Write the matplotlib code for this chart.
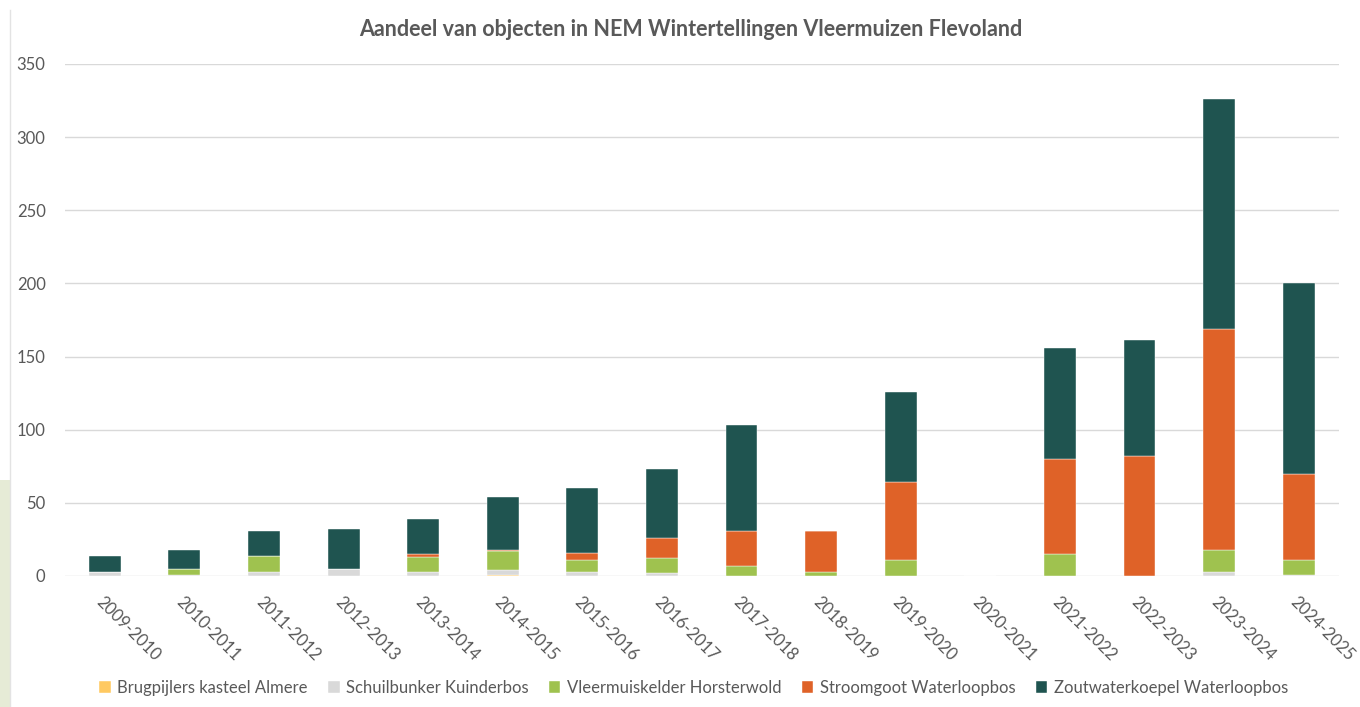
import numpy as np
import matplotlib.pyplot as plt
from matplotlib.patches import Rectangle

plt.rcParams['font.family'] = ['Lato', 'DejaVu Sans']

seasons = ["2009-2010", "2010-2011", "2011-2012", "2012-2013", "2013-2014",
           "2014-2015", "2015-2016", "2016-2017", "2017-2018", "2018-2019",
           "2019-2020", "2020-2021", "2021-2022", "2022-2023", "2023-2024",
           "2024-2025"]

brugpijlers = [0, 0, 0, 0, 0, 1, 0, 0, 0, 0, 0, 0, 0, 0, 0, 0]
schuilbunker = [3, 1, 3, 5, 3, 3, 3, 2, 0, 0, 0, 0, 0, 0, 3, 1]
vleermuiskelder = [0, 4, 11, 0, 10, 13, 8, 10, 7, 3, 11, 0, 15, 0, 15, 10]
stroomgoot = [0, 0, 0, 0, 2, 1, 5, 14, 24, 28, 53, 0, 65, 82, 151, 59]
zoutwaterkoepel = [11, 13, 17, 27, 24, 36, 44, 47, 72, 0, 62, 0, 76, 79, 157, 130]

series = [
    ("Brugpijlers kasteel Almere", brugpijlers, "#FFC961"),
    ("Schuilbunker Kuinderbos", schuilbunker, "#D9D9D9"),
    ("Vleermuiskelder Horsterwold", vleermuiskelder, "#9FC24F"),
    ("Stroomgoot Waterloopbos", stroomgoot, "#DF6228"),
    ("Zoutwaterkoepel Waterloopbos", zoutwaterkoepel, "#1F5450"),
]

text_color = "#595959"

fig = plt.figure(figsize=(13.6, 7.07), dpi=100)

# left edge of the screenshot
fig.patches.append(Rectangle((0, 0), 10 / 1360, 1 - 480 / 707, transform=fig.transFigure,
                             facecolor="#E6EBD6", edgecolor="none", zorder=0))
fig.add_artist(plt.Line2D([10 / 1360, 10 / 1360], [0, 1 - 10 / 707], transform=fig.transFigure,
                          color="#E3E3E3", lw=1))

ax = fig.add_axes([0.0478, 0.1853, 0.9364, 0.7242])

x = np.arange(len(seasons))
bottom = np.zeros(len(seasons))
for name, vals, color in series:
    ax.bar(x, vals, width=0.4, bottom=bottom, color=color, label=name,
           edgecolor="white", linewidth=0.3, zorder=3)
    bottom += np.array(vals)

ax.set_ylim(0, 350)
ax.set_xlim(-0.5, len(seasons) - 0.5)
ax.set_yticks(range(0, 351, 50))
ax.yaxis.grid(True, color="#D9D9D9", linewidth=1, zorder=0)
for s in ax.spines.values():
    s.set_visible(False)
ax.tick_params(axis="both", length=0, colors=text_color, labelsize=12)
ax.tick_params(axis="y", pad=14)
ax.set_xticks(x)
ax.set_xticklabels(seasons, rotation=-45, ha="left", va="top", rotation_mode="anchor")
ax.tick_params(axis="x", pad=13)

ax.set_title("Aandeel van objecten in NEM Wintertellingen Vleermuizen Flevoland",
             fontsize=15.5, fontweight="bold", color=text_color, pad=20, x=0.491)

fig.legend(loc="center", bbox_to_anchor=(0.51, 0.027), ncol=5, frameon=False,
           fontsize=12, labelcolor=text_color, handlelength=0.7, handleheight=0.7,
           handletextpad=0.4, columnspacing=1.2)

fig.savefig("out.png", dpi=100)
